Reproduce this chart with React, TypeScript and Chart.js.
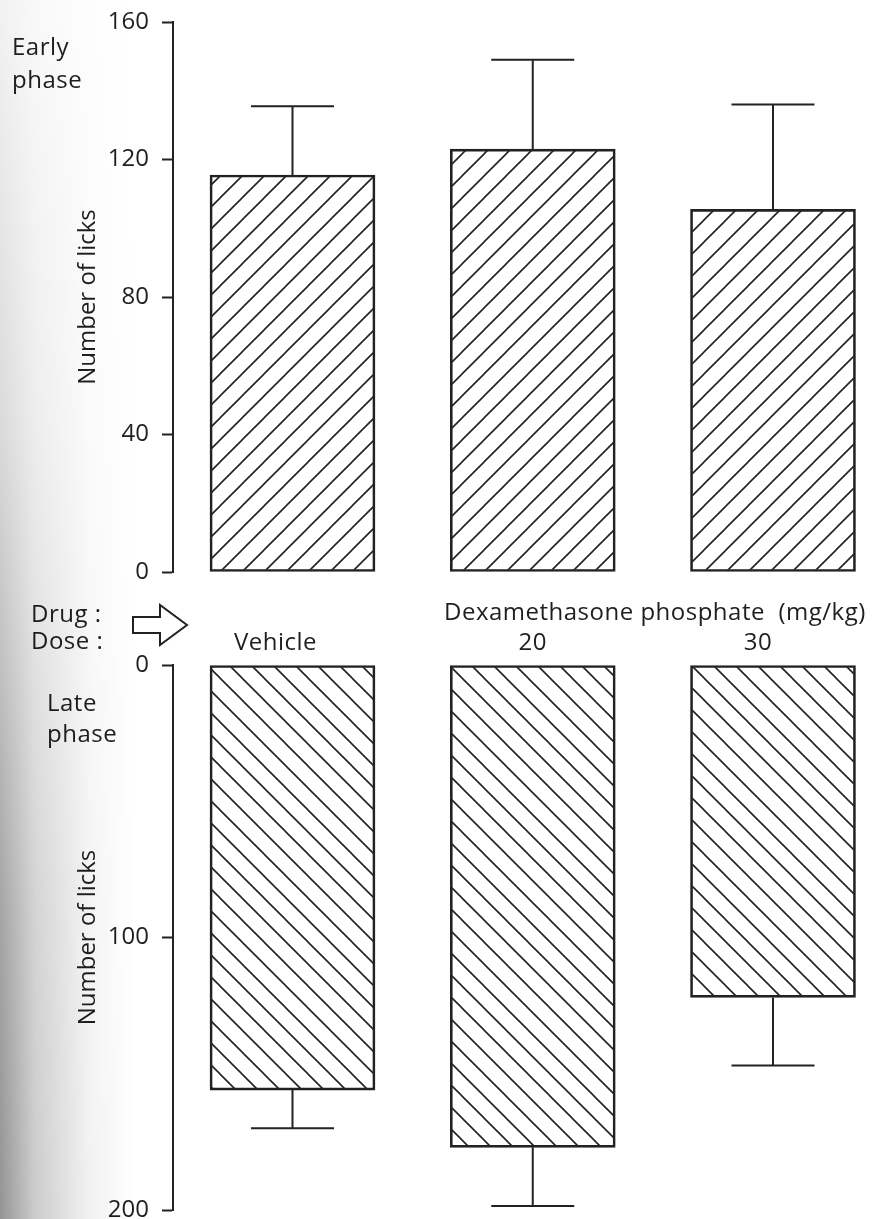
import { useEffect, useRef } from 'react';
import { Chart, registerables } from 'chart.js';

Chart.register(...registerables);

// Treatment groups (dose row between the two panels)
const doseLabels = ['Vehicle', '20', '30'];

// Early phase: mean number of licks and SEM
const earlyLicks = [115.5, 123, 105.5];
const earlySem = [20, 26, 30.5];

// Late phase: mean number of licks and SEM
const lateLicks = [156, 177, 122];
const lateSem = [14, 21.5, 25];

// Y-axis tick values
const earlyTicks = [0, 40, 80, 120, 160];
const lateTicks = [0, 100, 200];

const FONT = "'Open Sans', 'Noto Sans', sans-serif";
const INK = '#222222';
const TEXT = '#1f1f1f';

// Horizontal nudge of each dose caption relative to its bar centre (px)
const DOSE_NUDGE = [-17, 0, -15];

// Diagonal hatch fill: 'up' = "/" lines, 'down' = "\" lines
function hatch(dir: 'up' | 'down'): CanvasPattern {
  const s = 22;
  const c = document.createElement('canvas');
  c.width = s;
  c.height = s;
  const g = c.getContext('2d')!;
  g.strokeStyle = INK;
  g.lineWidth = 1.6;
  g.beginPath();
  if (dir === 'up') {
    g.moveTo(0, s); g.lineTo(s, 0);
    g.moveTo(-s / 2, s / 2); g.lineTo(s / 2, -s / 2);
    g.moveTo(s / 2, s * 1.5); g.lineTo(s * 1.5, s / 2);
  } else {
    g.moveTo(0, 0); g.lineTo(s, s);
    g.moveTo(-s / 2, s / 2); g.lineTo(s / 2, s * 1.5);
    g.moveTo(s / 2, -s / 2); g.lineTo(s * 1.5, s / 2);
  }
  g.stroke();
  return g.createPattern(c, 'repeat')!;
}

// Error bars (mean + SEM) drawn beyond the bar end with a cap
function errorBarPlugin(values: number[], errors: number[], cap: number) {
  return {
    id: 'errorBars',
    afterDatasetsDraw(chart: any) {
      const meta = chart.getDatasetMeta(0);
      const ys = chart.scales.y;
      const ctx: CanvasRenderingContext2D = chart.ctx;
      ctx.save();
      ctx.strokeStyle = INK;
      ctx.lineWidth = 2;
      meta.data.forEach((bar: any, i: number) => {
        const x = bar.x;
        const y0 = ys.getPixelForValue(values[i]);
        const y1 = ys.getPixelForValue(values[i] + errors[i]);
        ctx.beginPath();
        ctx.moveTo(x, y0);
        ctx.lineTo(x, y1);
        ctx.moveTo(x - cap / 2, y1);
        ctx.lineTo(x + cap / 2, y1);
        ctx.stroke();
      });
      ctx.restore();
    },
  };
}

type Note = { text: string; x: number; y: number };

// Free-standing captions (phase names, drug / dose row, arrow)
function notesPlugin(
  items: Note[],
  extras?: { arrow: { x: number; y: number }; doseBaseline: number }
) {
  return {
    id: 'notes',
    afterDraw(chart: any) {
      const ctx: CanvasRenderingContext2D = chart.ctx;
      ctx.save();
      ctx.fillStyle = TEXT;
      ctx.font = `24px ${FONT}`;
      ctx.textAlign = 'left';
      ctx.textBaseline = 'alphabetic';
      (ctx as any).letterSpacing = '0.5px';
      items.forEach((n) => ctx.fillText(n.text, n.x, n.y));
      if (extras) {
        // dose captions sit over the bars, placed from the x scale
        const xs = chart.scales.x;
        ctx.textAlign = 'center';
        doseLabels.forEach((t, i) => {
          ctx.fillText(t, xs.getPixelForValue(i) + DOSE_NUDGE[i], extras.doseBaseline);
        });
        const { x, y } = extras.arrow;
        ctx.strokeStyle = INK;
        ctx.lineWidth = 2;
        ctx.lineJoin = 'miter';
        ctx.beginPath();
        ctx.moveTo(x, y - 8);
        ctx.lineTo(x + 27, y - 8);
        ctx.lineTo(x + 27, y - 20);
        ctx.lineTo(x + 54, y);
        ctx.lineTo(x + 27, y + 20);
        ctx.lineTo(x + 27, y + 8);
        ctx.lineTo(x, y + 8);
        ctx.closePath();
        ctx.stroke();
      }
      ctx.restore();
    },
  };
}

function yAxis(max: number, ticks: number[], reverse: boolean) {
  return {
    min: 0,
    max,
    reverse,
    afterBuildTicks: (s: any) => {
      s.ticks = ticks.map((v) => ({ value: v }));
    },
    afterFit: (s: any) => {
      // fixed axis box; chart area edges come from layout padding alone
      s.width = 103;
      s.paddingTop = 0;
      s.paddingBottom = 0;
    },
    ticks: { font: { family: FONT, size: 24 }, color: TEXT, padding: 13 },
    grid: {
      display: true,
      drawOnChartArea: false,
      tickLength: 11,
      tickWidth: 2,
      tickColor: INK,
    },
    border: { display: true, color: INK, width: 2 },
    title: {
      display: true,
      text: 'Number of licks',
      font: { family: FONT, size: 24 },
      color: TEXT,
      padding: { top: 4, bottom: 0 },
    },
  };
}

const X_MIN = -0.4974;
const X_MAX = 2.4287;

const xAxis = {
  type: 'linear',
  min: X_MIN,
  max: X_MAX,
  offset: false,
  grid: { offset: false },
  display: false,
};

export default function App() {
  const topRef = useRef<HTMLCanvasElement>(null);
  const botRef = useRef<HTMLCanvasElement>(null);

  useEffect(() => {
    const early = new Chart(topRef.current!, {
      type: 'bar',
      data: {
        datasets: [
          {
            data: doseLabels.map((_, i) => ({ x: i, y: earlyLicks[i] })),
            backgroundColor: hatch('up'),
            borderColor: INK,
            borderWidth: 2,
            borderSkipped: false,
            barThickness: 165,
          },
        ],
      },
      options: {
        animation: false,
        responsive: false,
        layout: { padding: { left: 70, top: 22, right: 0, bottom: 18 } },
        plugins: { legend: { display: false }, tooltip: { enabled: false } },
        scales: {
          x: xAxis,
          y: yAxis(160, earlyTicks, false),
        },
      } as any,
      plugins: [
        errorBarPlugin(earlyLicks, earlySem, 83),
        notesPlugin([
          { text: 'Early', x: 12, y: 55 },
          { text: 'phase', x: 12, y: 88 },
        ]),
      ],
    } as any);

    const late = new Chart(botRef.current!, {
      type: 'bar',
      data: {
        datasets: [
          {
            data: doseLabels.map((_, i) => ({ x: i, y: lateLicks[i] })),
            backgroundColor: hatch('down'),
            borderColor: INK,
            borderWidth: 2,
            borderSkipped: false,
            barThickness: 165,
          },
        ],
      },
      options: {
        animation: false,
        responsive: false,
        layout: { padding: { left: 70, top: 75, right: 0, bottom: 20 } },
        plugins: { legend: { display: false }, tooltip: { enabled: false } },
        scales: {
          x: xAxis,
          y: yAxis(200, lateTicks, true),
        },
      } as any,
      plugins: [
        errorBarPlugin(lateLicks, lateSem, 83),
        notesPlugin(
          [
            { text: 'Drug :', x: 31, y: 32 },
            { text: 'Dose :', x: 31, y: 59 },
            { text: 'Dexamethasone phosphate  (mg/kg)', x: 444, y: 30 },
            { text: 'Late', x: 47, y: 121 },
            { text: 'phase', x: 47, y: 152 },
          ],
          { arrow: { x: 133, y: 35 }, doseBaseline: 60 }
        ),
      ],
    } as any);

    return () => {
      early.destroy();
      late.destroy();
    };
  }, []);

  return (
    <div
      style={{
        position: 'absolute',
        left: 0,
        top: 0,
        width: 876,
        height: 1219,
        overflow: 'hidden',
        background: '#ffffff',
      }}
    >
      <canvas
        ref={topRef}
        width={876}
        height={590}
        style={{ position: 'absolute', left: 0, top: 0, width: 876, height: 590 }}
      />
      <canvas
        ref={botRef}
        width={876}
        height={640}
        style={{ position: 'absolute', left: 0, top: 590, width: 876, height: 640 }}
      />
      <div
        style={{
          position: 'absolute',
          left: 0,
          top: 0,
          width: 140,
          height: 1219,
          pointerEvents: 'none',
          background:
            'linear-gradient(to right, rgba(0,0,0,0.42) 0px, rgba(0,0,0,0.2) 35px, rgba(0,0,0,0.05) 90px, rgba(0,0,0,0) 135px)',
          WebkitMaskImage:
            'linear-gradient(to bottom, rgba(0,0,0,0.12) 0%, rgba(0,0,0,0.35) 35%, rgba(0,0,0,0.85) 75%, #000 100%)',
          maskImage:
            'linear-gradient(to bottom, rgba(0,0,0,0.12) 0%, rgba(0,0,0,0.35) 35%, rgba(0,0,0,0.85) 75%, #000 100%)',
        }}
      />
    </div>
  );
}
